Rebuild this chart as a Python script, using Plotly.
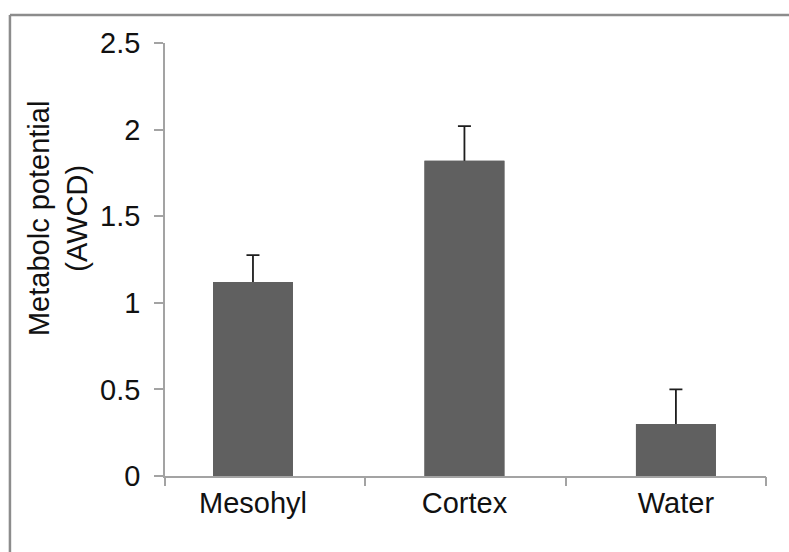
import plotly.graph_objects as go

categories = ["Mesohyl", "Cortex", "Water"]
values = [1.12, 1.82, 0.30]
errors = [0.155, 0.20, 0.20]
positions = [0, 1, 2]
y_ticks = [0, 0.5, 1, 1.5, 2, 2.5]
y_ticklabels = ["0", "0.5", "1", "1.5", "2", "2.5"]

FONT = "Liberation Sans, Arial, sans-serif"
AXIS_GRAY = "#a3a3a3"
BAR_COLOR = "#606060"
BAR_WIDTH = 0.378
BORDER = dict(color="#8c8c8c", width=2.5)

fig = go.Figure()
# bars carrying the (plus-only) error bars; lower end hidden inside the bar
fig.add_trace(go.Bar(
    x=positions, y=values, width=BAR_WIDTH,
    marker=dict(color=BAR_COLOR, line=dict(width=0)),
    error_y=dict(type="data", symmetric=False, array=errors,
                 arrayminus=[0.03] * len(errors),
                 color="#1e1e1e", thickness=1.8, width=6.5),
    showlegend=False, hoverinfo="skip",
))
# same bars drawn on top to cover the lower cap of the error bars
fig.add_trace(go.Bar(
    x=positions, y=values, width=BAR_WIDTH,
    marker=dict(color=BAR_COLOR, line=dict(width=0)),
    showlegend=False, hoverinfo="skip",
))
# empty trace to host the category-boundary tick axis
fig.add_trace(go.Scatter(x=[], y=[], xaxis="x2", showlegend=False, hoverinfo="skip"))

fig.update_layout(
    width=789, height=552,
    barmode="overlay",
    margin=dict(l=165, r=23, t=43, b=76),
    paper_bgcolor="white", plot_bgcolor="white",
    font=dict(family=FONT, size=29, color="#111111"),
    xaxis=dict(
        range=[-0.416, 2.426], tickvals=positions, ticktext=categories,
        showline=True, linecolor=AXIS_GRAY, linewidth=2,
        ticks="", showgrid=False, zeroline=False,
        tickfont=dict(size=29, family=FONT, color="#111111"),
        fixedrange=True,
    ),
    xaxis2=dict(
        overlaying="x", anchor="y", side="bottom", range=[0, 3],
        tickvals=[0, 1, 2, 3], ticks="outside", ticklen=9, tickwidth=1.5,
        tickcolor=AXIS_GRAY, showticklabels=False, showgrid=False,
        zeroline=False, showline=False,
    ),
    yaxis=dict(
        range=[0, 2.5], tickvals=y_ticks, ticktext=y_ticklabels,
        showline=True, linecolor=AXIS_GRAY, linewidth=1.5,
        ticks="outside", ticklen=9, tickwidth=1.5, tickcolor=AXIS_GRAY,
        showgrid=False, zeroline=False,
        tickfont=dict(size=29, family=FONT, color="#111111"),
        ticklabelstandoff=8,
    ),
    shapes=[
        dict(type="line", xref="paper", yref="paper",
             x0=-0.258, y0=1.0647, x1=1.1, y1=1.0647, line=BORDER, layer="below"),
        dict(type="line", xref="paper", yref="paper",
             x0=-0.258, y0=1.0647, x1=-0.258, y1=-0.25, line=BORDER, layer="below"),
    ],
    annotations=[dict(
        text="Metabolc potential<br>(AWCD)", xref="paper", yref="paper",
        x=-0.178, y=0.5935, xanchor="center", yanchor="middle",
        textangle=-90, showarrow=False,
        font=dict(size=29, family=FONT, color="#111111"),
    )],
)

fig.write_html(
    "out.html",
    config={"displayModeBar": False},
    post_script=(
        "document.documentElement.style.margin='0';"
        "document.documentElement.style.overflow='hidden';"
        "document.body.style.margin='0';"
        "document.body.style.overflow='hidden';"
    ),
)
